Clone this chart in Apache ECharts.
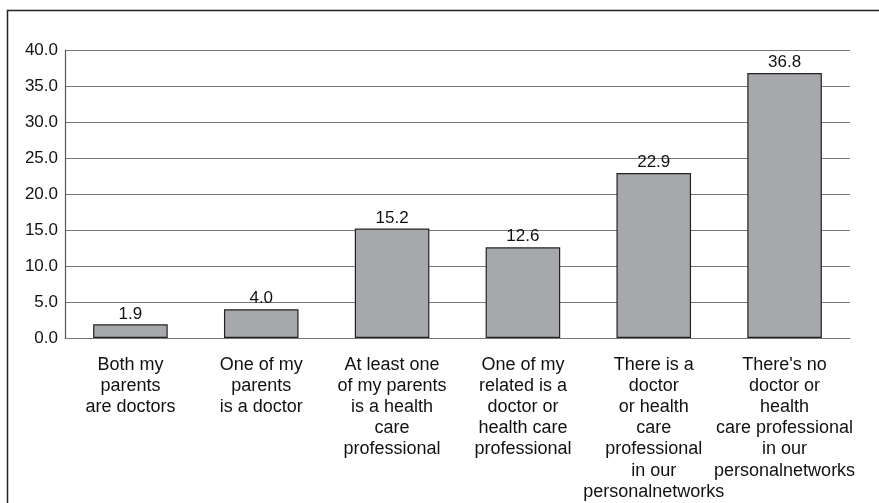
<!DOCTYPE html>
<html>
<head>
<meta charset="utf-8">
<script src="https://cdn.jsdelivr.net/npm/echarts@6/dist/echarts.min.js"></script>
<style>
  html, body { margin: 0; padding: 0; background: #fff; }
  #chart { width: 879px; height: 503px; }
</style>
</head>
<body>
<div id="chart"></div>
<script>
// Respondents' ties to doctors / health care professionals (%)
const categories = [
  'Both my\nparents\nare doctors',
  'One of my\nparents\nis a doctor',
  'At least one\nof my parents\nis a health\ncare\nprofessional',
  'One of my\nrelated is a\ndoctor or\nhealth care\nprofessional',
  'There is a\ndoctor\nor health\ncare\nprofessional\nin our\npersonalnetworks',
  "There's no\ndoctor or\nhealth\ncare professional\nin our\npersonalnetworks"
];
const values = [1.9, 4.0, 15.2, 12.6, 22.9, 36.8];

const FONT = '"Liberation Sans", Arial, sans-serif';

const chart = echarts.init(document.getElementById('chart'), null, { renderer: 'canvas' });
chart.setOption({
  animation: false,
  backgroundColor: '#ffffff',
  graphic: [{
    type: 'rect',
    shape: { x: 7.5, y: 10.5, width: 900, height: 520 },
    style: { fill: 'none', stroke: '#222', lineWidth: 1.5 },
    silent: true
  }],
  grid: { left: 65, right: 29, top: 50, bottom: 165 },
  xAxis: {
    type: 'category',
    data: categories,
    axisLine: { show: true, lineStyle: { color: '#777', width: 1.2 } },
    axisTick: { show: false },
    axisLabel: {
      interval: 0,
      color: '#111',
      fontFamily: FONT,
      fontSize: 18,
      lineHeight: 21.2,
      margin: 16,
      align: 'center'
    }
  },
  yAxis: {
    type: 'value',
    min: 0,
    max: 40,
    interval: 5,
    axisLine: { show: true, lineStyle: { color: '#555', width: 1.2 } },
    axisTick: { show: false },
    splitLine: { show: true, lineStyle: { color: '#777', width: 1.2 } },
    axisLabel: {
      color: '#111',
      fontFamily: FONT,
      fontSize: 17,
      margin: 7,
      formatter: v => v.toFixed(1)
    }
  },
  series: [{
    type: 'bar',
    data: values,
    barWidth: '57%',
    itemStyle: { color: '#a7a8ab', borderColor: '#222', borderWidth: 1.2 },
    label: {
      show: true,
      position: 'top',
      distance: 2,
      color: '#111',
      fontFamily: FONT,
      fontSize: 17,
      formatter: p => p.value.toFixed(1)
    }
  }]
});
</script>
</body>
</html>
